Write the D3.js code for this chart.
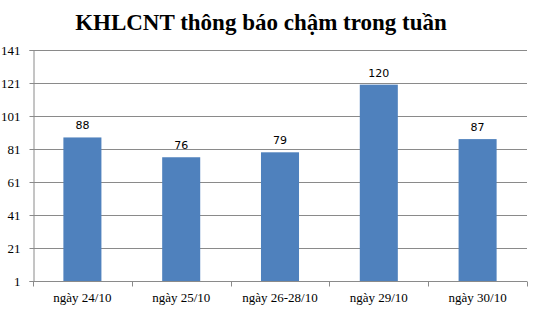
<!DOCTYPE html>
<html><head><meta charset="utf-8">
<script src="https://cdn.jsdelivr.net/npm/d3@7"></script>
<style>body{margin:0;background:#fff}svg{display:block}</style>
</head><body>
<script>
const categories = ["ngày 24/10","ngày 25/10","ngày 26-28/10","ngày 29/10","ngày 30/10"];
const values = [88,76,79,120,87];
const yTicks = [1,21,41,61,81,101,121,141];
const title = "KHLCNT thông báo chậm trong tuần";

const W=537,H=311;
const svg=d3.select("body").append("svg").attr("width",W).attr("height",H);
const x0=33,x1=527,yTop=50,yBot=281;
const x=d3.scaleBand().domain(categories).range([x0,x1]).paddingInner(0.615).paddingOuter(0.3075);
const y=d3.scaleLinear().domain([1,141]).range([yBot,yTop]);

svg.append("text").attr("x",261).attr("y",30).attr("text-anchor","middle")
  .attr("font-family","'Liberation Serif','Times New Roman',serif").attr("font-weight","bold")
  .attr("font-size",23).attr("fill","#000").text(title);

// gridlines
svg.append("g").selectAll("line").data(yTicks.slice(1)).join("line")
  .attr("x1",x0).attr("x2",x1).attr("y1",d=>Math.round(y(d))+0.5).attr("y2",d=>Math.round(y(d))+0.5)
  .attr("stroke","#8a8a8a").attr("stroke-width",1);

// y axis
const ya=svg.append("g").attr("transform",`translate(${x0+0.5},0)`)
  .call(d3.axisLeft(y).tickValues(yTicks).tickSize(4).tickPadding(9).tickFormat(d3.format("d")));
ya.select(".domain").attr("stroke","#8a8a8a");
ya.selectAll(".tick line").attr("stroke","#8a8a8a");
ya.selectAll(".tick text").attr("font-family","'Liberation Serif','Times New Roman',serif").attr("font-size",13).attr("fill","#000");

// bars
svg.append("g").selectAll("rect").data(values).join("rect")
  .attr("x",(d,i)=>x(categories[i])).attr("width",x.bandwidth())
  .attr("y",d=>y(d)).attr("height",d=>y(1)-y(d)).attr("fill","#4F81BD");

// x axis
const xa=svg.append("g").attr("transform",`translate(0,${yBot+0.5})`);
xa.append("line").attr("x1",x0).attr("x2",x1).attr("stroke","#8a8a8a");
xa.selectAll("line.t").data(d3.range(categories.length+1)).join("line").attr("class","t")
  .attr("x1",i=>Math.round(x0+i*(x1-x0)/categories.length)+0.5).attr("x2",i=>Math.round(x0+i*(x1-x0)/categories.length)+0.5)
  .attr("y1",0).attr("y2",5).attr("stroke","#8a8a8a");
xa.selectAll("text").data(categories).join("text")
  .attr("x",d=>x(d)+x.bandwidth()/2).attr("y",20).attr("text-anchor","middle")
  .attr("font-family","'Liberation Serif','Times New Roman',serif").attr("font-size",13).attr("fill","#000").text(d=>d);

// data labels
svg.append("g").selectAll("text").data(values).join("text")
  .attr("x",(d,i)=>x(categories[i])+x.bandwidth()/2).attr("y",d=>y(d)-8).attr("text-anchor","middle")
  .attr("font-family","'DejaVu Sans',Verdana,sans-serif").attr("font-size",11).attr("fill","#000").text(d=>d);
</script>
</body></html>
